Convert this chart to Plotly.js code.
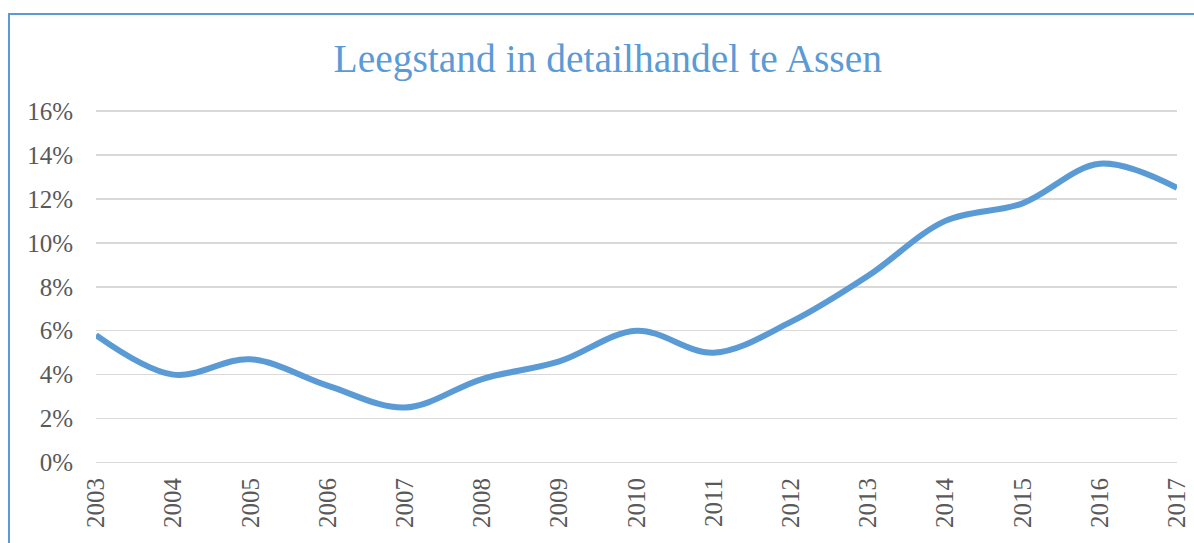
<!DOCTYPE html>
<html>
<head>
<meta charset="utf-8">
<script src="https://cdn.plot.ly/plotly-3.0.1.min.js"></script>
<style>
  html, body { margin: 0; padding: 0; background: #fff; }
  #wrap { position: relative; width: 1194px; height: 543px; overflow: hidden; }
  #chart { position: absolute; left: 0; top: 0; width: 1194px; height: 543px; }
  #frame { position: absolute; left: 8px; top: 13px; width: 1200px; height: 600px;
           border-left: 2px solid #5b9bd5; border-top: 2px solid #5b9bd5; pointer-events: none; }
</style>
</head>
<body>
<div id="wrap">
  <div id="chart"></div>
  <div id="frame"></div>
</div>
<script>
const years = ["2003","2004","2005","2006","2007","2008","2009","2010","2011","2012","2013","2014","2015","2016","2017"];
const leegstand = [5.8, 4.0, 4.7, 3.5, 2.5, 3.8, 4.6, 6.0, 5.0, 6.4, 8.5, 11.0, 11.8, 13.6, 12.5];
const yTicks = [0, 2, 4, 6, 8, 10, 12, 14, 16];
const yTickLabels = ["0%", "2%", "4%", "6%", "8%", "10%", "12%", "14%", "16%"];
const chartTitle = "Leegstand in detailhandel te Assen";

const trace = {
  x: years,
  y: leegstand,
  type: "scatter",
  mode: "lines",
  line: { color: "#5b9bd5", width: 6, shape: "spline", smoothing: 1 },
  hoverinfo: "x+y"
};

const tickFont = { family: "Liberation Serif, DejaVu Serif, serif", size: 25, color: "#595959" };

const layout = {
  width: 1194,
  height: 543,
  paper_bgcolor: "#ffffff",
  plot_bgcolor: "#ffffff",
  margin: { l: 96, r: 17, t: 108, b: 79 },
  showlegend: false,
  title: {
    text: chartTitle,
    font: { family: "Liberation Serif, DejaVu Serif, serif", size: 39.5, color: "#5b9bd5" },
    x: 0.509, xref: "container", xanchor: "center",
    y: 0.893, yref: "container", yanchor: "middle"
  },
  xaxis: {
    type: "category",
    range: [0, years.length - 1],
    showgrid: false,
    zeroline: false,
    showline: false,
    tickangle: -90,
    ticks: "outside",
    ticklen: 3,
    tickcolor: "rgba(0,0,0,0)",
    tickfont: tickFont
  },
  yaxis: {
    range: [-0.07, 16.14],
    tickmode: "array",
    tickvals: yTicks,
    ticktext: yTickLabels,
    showgrid: true,
    gridcolor: "#d9d9d9",
    gridwidth: 1.5,
    zeroline: false,
    showline: false,
    ticks: "outside",
    ticklen: 17,
    tickcolor: "rgba(0,0,0,0)",
    tickfont: tickFont
  }
};

Plotly.newPlot("chart", [trace], layout, { displayModeBar: false, staticPlot: true });
</script>
</body>
</html>
